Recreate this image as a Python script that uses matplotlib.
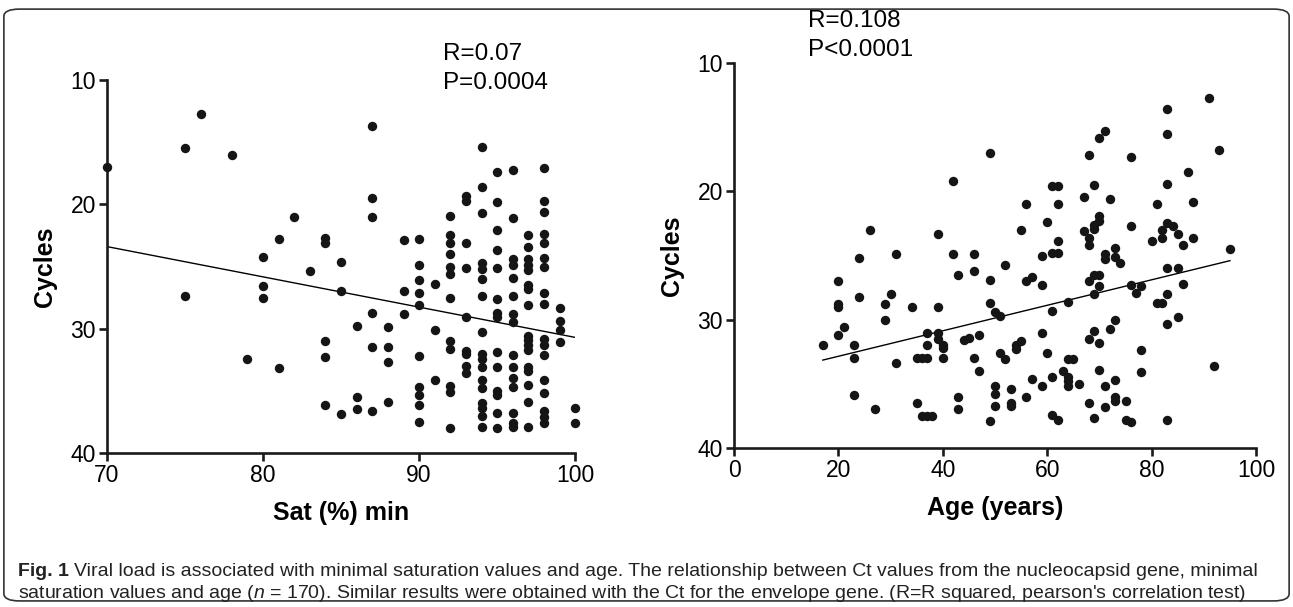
import matplotlib
matplotlib.use("Agg")
import matplotlib.pyplot as plt
from matplotlib.patches import FancyBboxPatch
import numpy as np

plt.rcParams['font.family'] = ['Liberation Sans', 'DejaVu Sans']
plt.rcParams['mathtext.fontset'] = 'custom'
plt.rcParams['mathtext.rm'] = 'Liberation Sans'
plt.rcParams['mathtext.it'] = 'Liberation Sans:italic'

# --- left panel: minimal saturation vs Ct ---
sat_min = [70, 75, 75, 76, 78, 79, 80, 80, 80, 81, 81, 82, 83,
           84, 84, 84, 84, 84, 85, 85, 85, 86, 86, 86,
           87, 94, 95, 96, 98, 94, 93, 93, 87, 95, 98, 98, 92, 94, 96, 87,
           87, 87, 87,
           88, 88, 88, 88,
           89, 89, 89,
           90, 90, 90, 90, 90, 90, 90, 90, 90, 90,
           91, 91, 91,
           92, 92, 92, 92, 92, 92, 92, 92, 92, 92, 92,
           93, 93, 93, 93, 93, 93, 93,
           94, 94, 94, 94, 94, 94, 94, 94, 94, 94, 94, 94, 94, 94,
           95, 95, 95, 95, 95, 95, 95, 95, 95, 95, 95, 95,
           96, 96, 96, 96, 96, 96, 96, 96, 96, 96, 96, 96, 96,
           97, 97, 97, 97, 97, 97, 97, 97, 97, 97, 97, 97, 97, 97, 97, 97, 97,
           98, 98, 98, 98, 98, 98, 98, 98, 98, 98, 98, 98, 98, 98,
           99, 99, 99, 99,
           100, 100]
sat_ct = [17.0, 15.5, 27.4, 12.7, 16.0, 32.4, 24.2, 26.6, 27.5, 22.8, 33.2, 21.0, 25.4,
          22.7, 23.1, 31.0, 32.3, 36.1, 24.6, 27.0, 36.9, 29.8, 35.5, 36.5,
          13.7, 15.4, 17.4, 17.2, 17.1, 18.6, 19.3, 19.7, 19.5, 19.8, 19.7, 20.6, 20.9, 20.7, 21.1, 21.0,
          28.7, 31.5, 36.6, 29.9,
          31.5, 32.7, 35.9, 22.9,
          27.0, 28.8,
          22.8, 24.9, 26.1, 27.1, 28.1, 32.2, 34.7, 35.3, 36.1, 37.5,
          26.4, 30.1, 34.1,
          22.5, 23.1, 24.0, 25.0, 25.6, 27.5, 31.0, 31.6, 34.6, 35.1, 38.0,
          23.1, 25.1, 29.1, 31.8, 32.0, 33.0, 33.6,
          24.7, 25.2, 26.0, 27.4, 30.3, 32.0, 32.4, 33.1, 34.1, 34.8, 36.0, 36.4, 37.0, 37.9,
          22.1, 23.7, 25.1, 27.6, 28.7, 29.1, 31.9, 33.1, 35.0, 35.3, 36.8, 38.0,
          24.4, 24.9, 25.9, 27.4, 28.8, 29.5, 32.1, 33.1, 34.0, 34.7, 36.8, 37.6, 37.9,
          22.5, 23.4, 24.4, 24.9, 25.3, 26.5, 26.8, 28.1, 30.6, 30.9, 31.3, 31.7, 33.1, 33.4, 34.5, 35.9, 37.9,
          22.4, 23.1, 24.3, 25.0, 27.1, 28.0, 30.8, 31.3, 32.1, 34.1, 35.2, 36.6, 37.1, 37.6,
          28.3, 29.4, 30.1, 31.1,
          36.4, 37.6]
sat_fit_x = [70, 100]
sat_fit_y = [23.4, 30.7]

# --- right panel: age vs Ct ---
age = [49, 42, 26, 39, 55, 24, 31, 42, 46, 52, 46,
       71, 70, 68, 76, 61, 62, 69, 67, 72, 56, 62, 81, 70, 70, 69, 69,
       60, 76, 67, 68, 68, 82, 82, 80, 62, 59, 61, 62, 71, 71, 73, 73, 74,
       43, 49, 20, 20, 20, 24, 30, 29, 29, 34, 39, 49, 50, 51,
       21, 20, 17, 23, 23, 31, 37, 39, 39, 40, 40, 37, 35, 36, 37, 40,
       44, 45, 47, 46, 47, 51, 52, 54, 54, 55,
       23, 27, 35, 36, 37, 38, 43, 43, 49, 50, 50, 50, 53, 53, 53,
       56, 57, 59, 61, 64, 68, 69, 70, 70, 69, 76, 77, 78, 81,
       56, 57, 59, 60, 59, 61, 61, 62, 63, 64, 64, 64, 64, 65, 66,
       68, 69, 70, 68, 69, 70, 71, 71, 72, 73, 73, 73, 73, 75, 75, 76, 78, 78,
       83, 91, 83, 93, 87, 83, 88, 83, 84, 85, 86, 88, 95, 83, 85, 86, 83, 82, 85, 83, 92, 83]
age_ct = [17.0, 19.2, 23.0, 23.3, 23.0, 25.2, 24.9, 24.9, 24.9, 25.7, 26.2,
          15.3, 15.8, 17.2, 17.3, 19.6, 19.6, 19.5, 20.4, 20.6, 21.0, 21.0, 21.0, 21.9, 22.3, 22.6, 22.9,
          22.4, 22.7, 23.1, 23.6, 24.2, 23.0, 23.6, 23.9, 23.9, 25.0, 24.8, 24.8, 24.9, 25.3, 24.4, 25.1, 25.6,
          26.5, 26.9, 27.0, 28.8, 29.0, 28.2, 28.0, 28.8, 30.0, 29.0, 29.0, 28.7, 29.4, 29.7,
          30.6, 31.2, 32.0, 32.0, 33.0, 33.4, 31.0, 31.0, 31.5, 32.0, 32.2, 32.0, 33.0, 33.0, 33.0, 33.0,
          31.6, 31.4, 31.2, 33.0, 34.0, 32.6, 33.1, 32.0, 32.3, 31.7,
          35.9, 37.0, 36.5, 37.5, 37.5, 37.5, 36.0, 37.0, 37.9, 35.2, 35.8, 36.7, 35.4, 36.5, 36.7,
          27.0, 26.7, 27.3, 29.3, 28.6, 27.0, 26.5, 26.5, 27.4, 28.0, 27.3, 27.9, 27.4, 28.7,
          36.0, 34.6, 31.0, 32.6, 35.2, 34.5, 37.4, 37.8, 34.0, 34.5, 34.8, 35.2, 33.1, 33.1, 35.0,
          31.5, 30.9, 31.8, 36.5, 37.7, 33.9, 35.2, 36.8, 30.7, 30.0, 34.7, 36.0, 36.3, 36.3, 37.8, 38.0, 32.4, 34.1,
          13.6, 12.7, 15.5, 16.8, 18.5, 19.4, 20.8, 22.5, 22.7, 23.3, 24.2, 23.6, 24.5, 26.0, 26.0, 27.2, 28.0, 28.7, 29.8, 30.3, 33.6, 37.8]
age_fit_x = [17, 95]
age_fit_y = [33.15, 25.4]

fig = plt.figure(figsize=(12.93, 6.07), dpi=100)

# rounded frame round the whole figure
frame = FancyBboxPatch((0.003, 0.010), 0.994, 0.975, boxstyle="round,pad=0,rounding_size=0.012",
                       transform=fig.transFigure, fill=False, edgecolor='#333333', linewidth=1.2)
fig.patches.append(frame)

ax1 = fig.add_axes([0.0828, 0.2537, 0.362, 0.6145])
ax2 = fig.add_axes([0.5677, 0.262, 0.4037, 0.634])

dot = '#151515'
for ax, xs, ys, fx, fy in [(ax1, sat_min, sat_ct, sat_fit_x, sat_fit_y),
                            (ax2, age, age_ct, age_fit_x, age_fit_y)]:
    ax.scatter(xs, ys, s=46, color=dot, linewidths=0, zorder=3, clip_on=False)
    ax.plot(fx, fy, color='black', linewidth=1.0, zorder=2)
    ax.set_ylim(40, 10)
    ax.set_yticks([10, 20, 30, 40])
    for s in ['top', 'right']:
        ax.spines[s].set_visible(False)
    for s in ['left', 'bottom']:
        ax.spines[s].set_linewidth(1.9)
        ax.spines[s].set_color('#1a1a1a')
    ax.tick_params(axis='both', length=6, width=1.9, labelsize=16.5, color='#1a1a1a', pad=2)
    ax.set_ylabel('Cycles', fontsize=18, fontweight='bold', labelpad=10)

ax1.set_xlim(70, 100)
ax1.set_xticks([70, 80, 90, 100])
ax1.set_xlabel('Sat (%) min', fontsize=18, fontweight='bold', labelpad=10)
ax1.text(91.5, 7.0, 'R=0.07\nP=0.0004', fontsize=17.5, va='top', ha='left',
         linespacing=1.4, clip_on=False)

ax2.set_xlim(0, 100)
ax2.set_xticks([0, 20, 40, 60, 80, 100])
ax2.set_xlabel('Age (years)', fontsize=18, fontweight='bold', labelpad=10)
ax2.text(14.2, 5.85, 'R=0.108\nP<0.0001', fontsize=17.5, va='top', ha='left',
         linespacing=1.4, clip_on=False)

# caption
cap_size = 14
t = fig.text(18 / 1293, 1 - 571 / 607, 'Fig. 1', fontsize=cap_size, fontweight='bold',
             va='center', ha='left', color='#222222')
fig.canvas.draw()
bb = t.get_window_extent()
fig.text((bb.x1 + 5) / 1293, 1 - 571 / 607,
         'Viral load is associated with minimal saturation values and age. The relationship between '
         'Ct values from the nucleocapsid gene, minimal',
         fontsize=cap_size, va='center', ha='left', color='#222222')
fig.text(18 / 1293, 1 - 594 / 607,
         r"saturation values and age ($\it{n}$ = 170). Similar results were obtained with the Ct for the "
         r"envelope gene. (R=R squared, pearson's correlation test)",
         fontsize=cap_size, va='center', ha='left', color='#222222')

fig.savefig('out.png', dpi=100)
